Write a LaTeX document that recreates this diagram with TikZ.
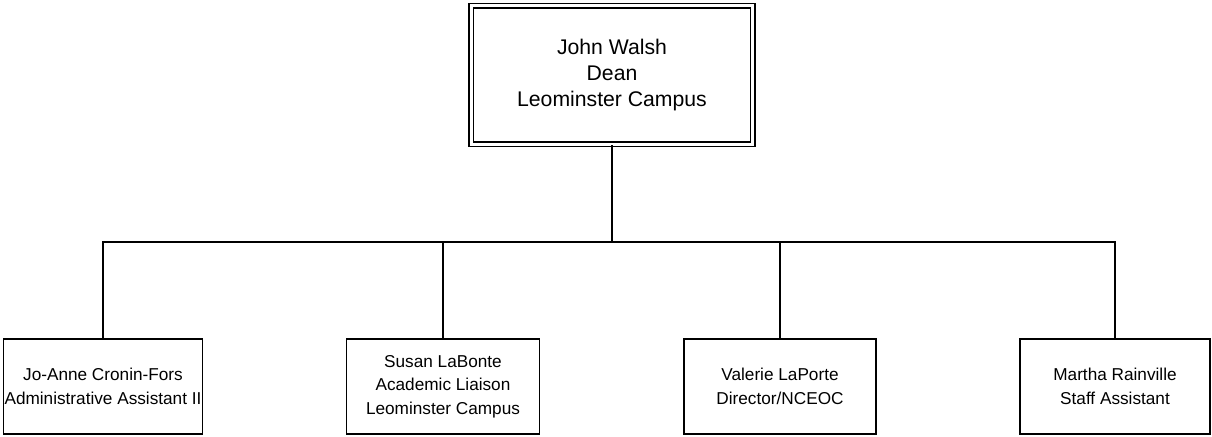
\documentclass[tikz,border=0pt]{standalone}
\usepackage{fontspec}
\setmainfont{Liberation Sans}
\usepackage{tikz}

\tikzset{
  head/.style={draw, double, line width=1.1pt, double distance=2.4pt, inner sep=0pt,
    minimum width=211pt, minimum height=104pt, align=center,
    font=\fontsize{15.9}{19.3}\selectfont},
  staff/.style={draw, line width=1.1pt, inner sep=0pt, minimum height=71pt, align=center,
    font=\fontsize{12.9}{17.5}\selectfont},
  link/.style={line width=1.1pt}
}

\begin{document}
\begin{tikzpicture}[x=0.75pt,y=-0.75pt]
\useasboundingbox (0,0) rectangle (1212,436);
\node[head] (dean) at (612,75) {John Walsh\\Dean\\Leominster Campus};
\node[staff, minimum width=149pt] (cronin) at (103,386.5) {Jo-Anne Cronin-Fors\\Administrative Assistant II};
\node[staff, minimum width=144.5pt] (labonte) at (443,386.5) {Susan LaBonte\\Academic Liaison\\Leominster Campus};
\node[staff, minimum width=144pt] (laporte) at (780,386.5) {Valerie LaPorte\\Director/NCEOC};
\node[staff, minimum width=142.5pt] (rainville) at (1115,386.5) {Martha Rainville\\Staff Assistant};
\coordinate (bus) at (612,242);
% connectors
\draw[link] (dean.south) -- (bus);
\draw[link] (cronin.north) |- (bus) -| (rainville.north);
\foreach \n in {labonte,laporte}
  \draw[link] (\n.north) -- (\n.north |- bus);
\end{tikzpicture}
\end{document}
